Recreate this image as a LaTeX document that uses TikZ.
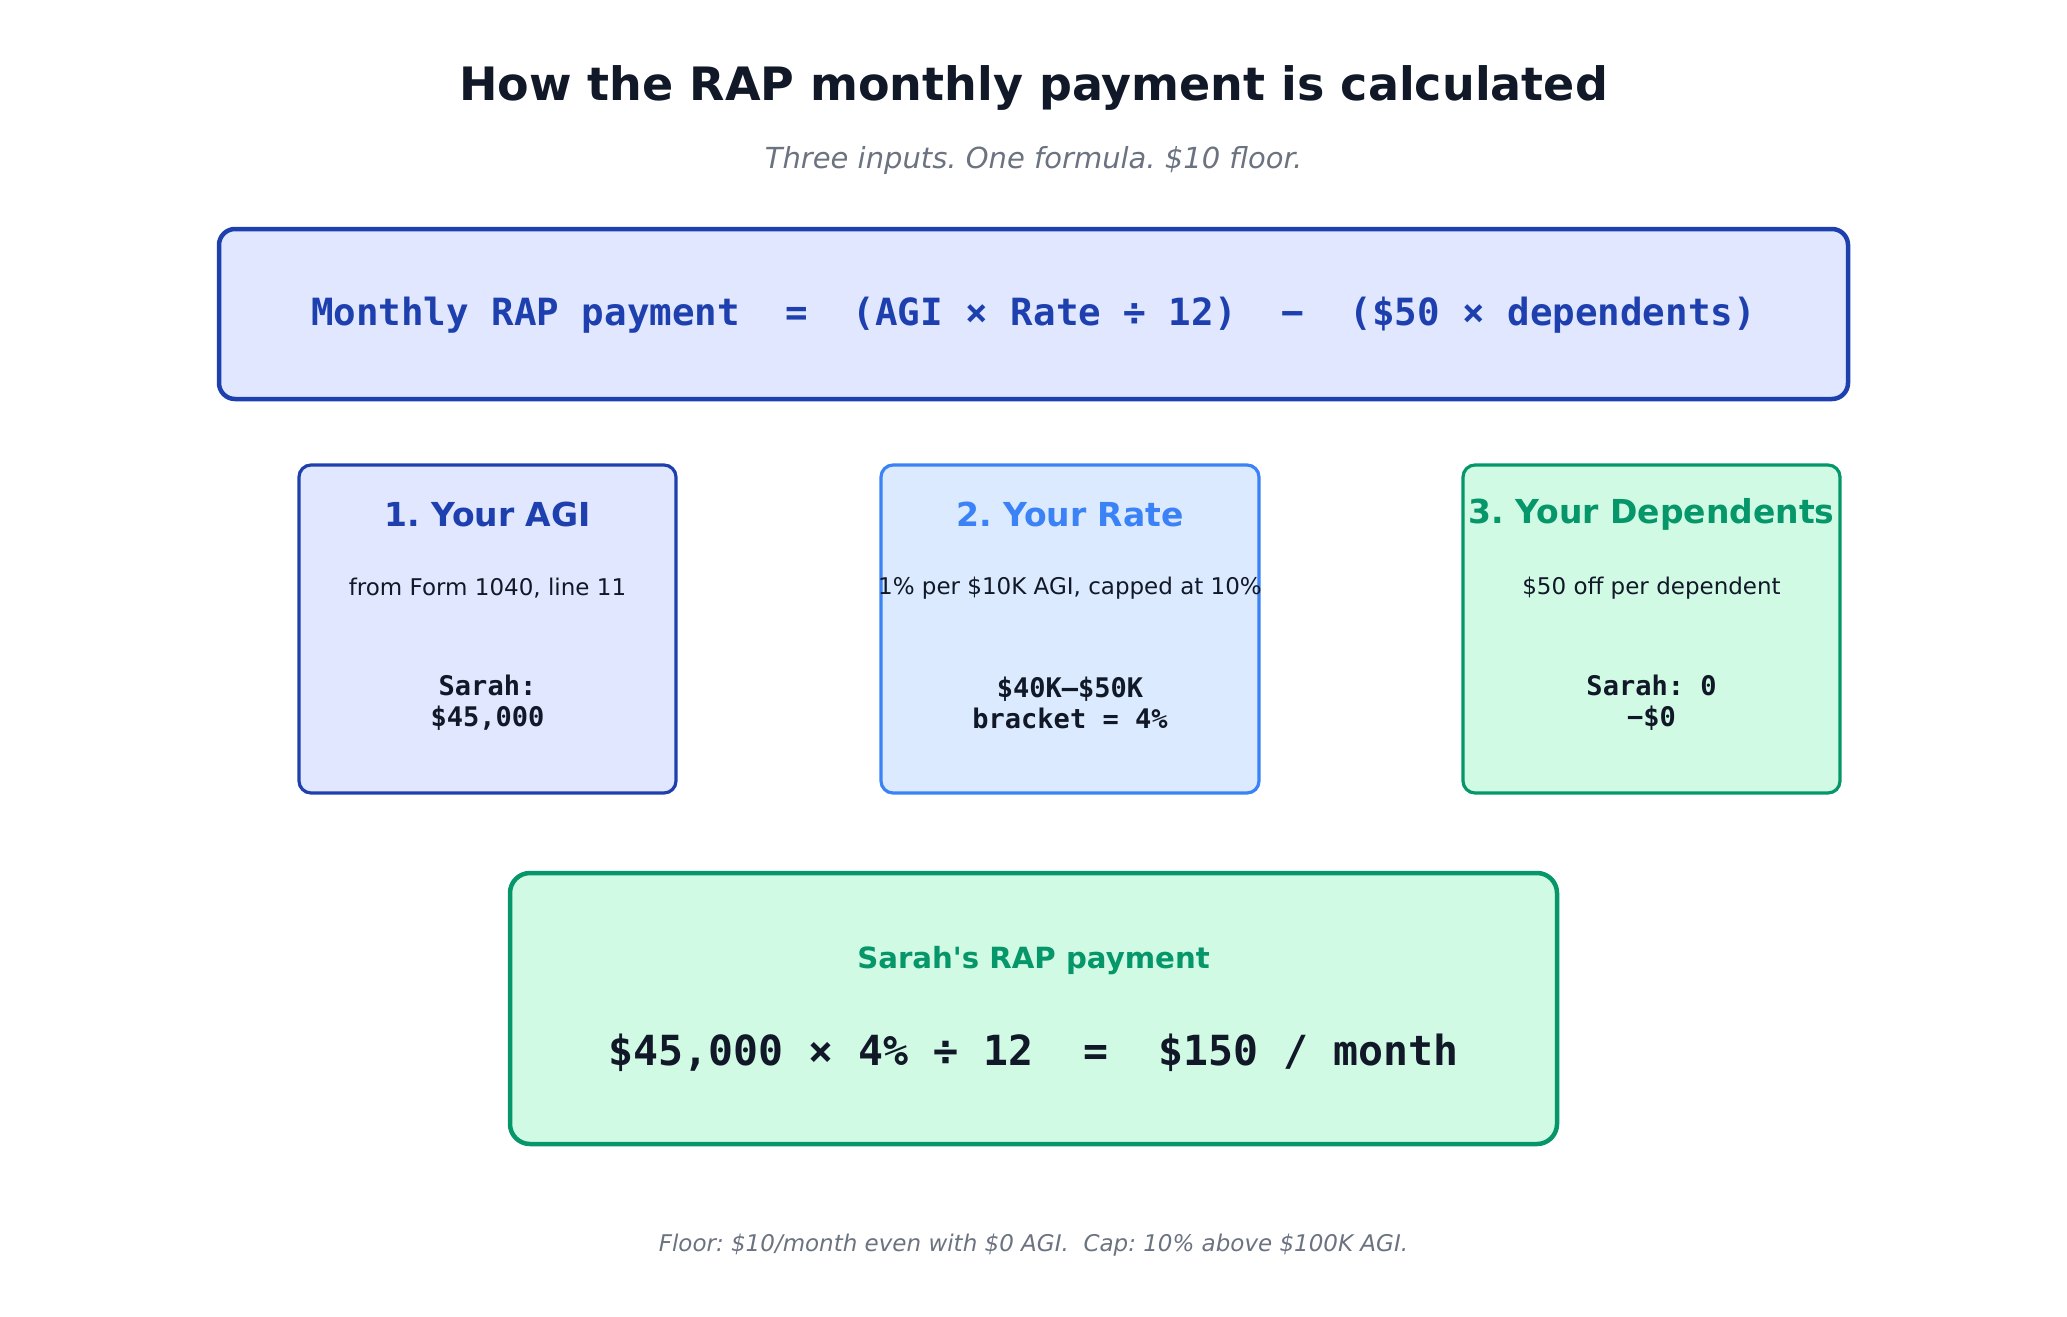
\documentclass[tikz,border=0pt]{standalone}
\usepackage{fontspec}
\setmainfont{DejaVu Sans}
\setmonofont{DejaVu Sans Mono}
\newfontface\plainbold[Ligatures=ResetAll]{DejaVu Sans Bold}
\frenchspacing
\definecolor{ink}{HTML}{111827}
\definecolor{muted}{HTML}{6B7280}
\definecolor{navy}{HTML}{1E40AF}
\definecolor{navyfill}{HTML}{E0E7FF}
\definecolor{sky}{HTML}{3B82F6}
\definecolor{skyfill}{HTML}{DBEAFE}
\definecolor{grn}{HTML}{059669}
\definecolor{grnfill}{HTML}{D1FAE5}
\tikzset{
  txt/.style={inner sep=0pt, anchor=center, align=center},
  card/.style={draw, line width=3.2pt, rounded corners=12pt},
}
\begin{document}
\begin{tikzpicture}[x=1pt,y=-1pt]
\useasboundingbox (0,0) rectangle (2067,1317);
% title
\node[txt, text=ink, font=\fontsize{46}{54}\selectfont\bfseries] (title) at (1033.5,88) {How the RAP monthly payment is calculated};
\node[txt, text=muted, font=\fontsize{29}{35}\selectfont\itshape] (subtitle) at (1033.5,160) {Three inputs. One formula. \$10 floor.};
% formula box
\draw[draw=navy, fill=navyfill, line width=4.5pt, rounded corners=16pt] (219,229) rectangle (1848,399);
\node[txt, text=navy, font=\fontsize{37.5}{44}\selectfont\ttfamily\bfseries] (formula) at (1033.5,315) {Monthly RAP payment\ \ =\ \ (AGI × Rate ÷ 12)\ \ −\ \ (\$50 × dependents)};
% input cards
\draw[card, draw=navy, fill=navyfill] (299,465) rectangle (676,793);
\draw[card, draw=sky, fill=skyfill] (881,465) rectangle (1259,793);
\draw[card, draw=grn, fill=grnfill] (1463,465) rectangle (1840,793);
\node[txt, text=navy, font=\fontsize{33}{39}\selectfont\bfseries] (t1) at (487.5,514) {1. Your AGI};
\node[txt, text=sky, font=\fontsize{33}{39}\selectfont\bfseries] (t2) at (1070,514) {2. Your Rate};
\node[txt, text=grn, font=\fontsize{33}{39}\selectfont\bfseries] (t3) at (1651.5,514) {3. Your Dependents};
\node[txt, text=ink, font=\fontsize{23}{27}\selectfont] (d1) at (487.5,588) {from Form 1040, line 11};
\node[txt, text=ink, font=\fontsize{23}{27}\selectfont] (d2) at (1070,588) {1\% per \$10K AGI, capped at 10\%};
\node[txt, text=ink, font=\fontsize{23}{27}\selectfont] (d3) at (1651.5,588) {\$50 off per dependent};
\node[txt, text=ink, font=\fontsize{27}{31}\selectfont\ttfamily\bfseries] (v1) at (487.5,703) {Sarah:\\\$45,000};
\node[txt, text=ink, font=\fontsize{27}{31}\selectfont\ttfamily\bfseries] (v2) at (1070,703) {\$40K–\$50K\\bracket = 4\%};
\node[txt, text=ink, font=\fontsize{27}{31}\selectfont\ttfamily\bfseries] (v3) at (1651.5,703) {Sarah: 0\\−\$0};
% result box
\draw[draw=grn, fill=grnfill, line width=4.5pt, rounded corners=20pt] (510,873) rectangle (1557,1144);
\node[txt, text=grn, font=\plainbold\fontsize{29.2}{35}\selectfont] (rlabel) at (1033.5,961) {Sarah's RAP payment};
\node[txt, text=ink, font=\fontsize{41.5}{48}\selectfont\ttfamily\bfseries] (result) at (1033.5,1053) {\$45,000 × 4\% ÷ 12\ \ =\ \ \$150 / month};
% footer
\node[txt, text=muted, font=\fontsize{23}{27}\selectfont\itshape] (footer) at (1033.5,1245) {Floor: \$10/month even with \$0 AGI.\ \ Cap: 10\% above \$100K AGI.};
\end{tikzpicture}
\end{document}
